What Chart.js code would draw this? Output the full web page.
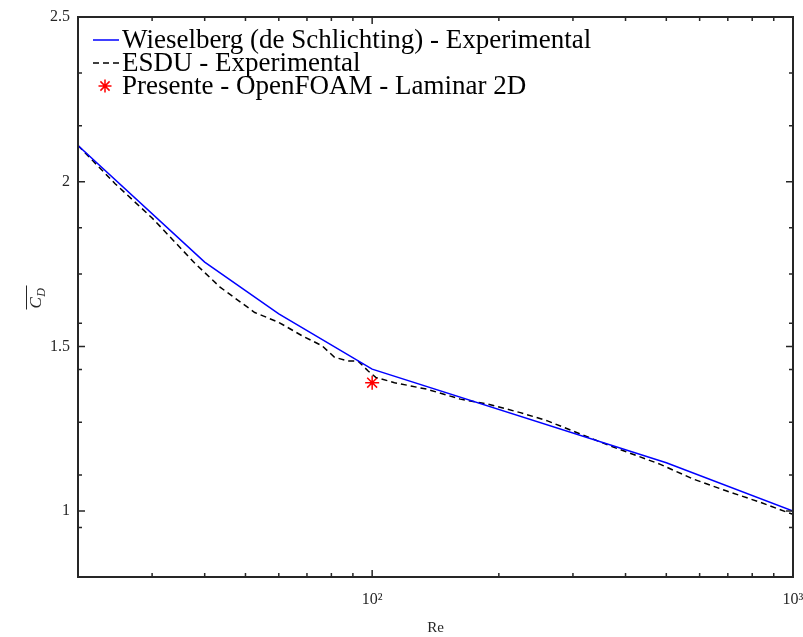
<!DOCTYPE html>
<html><head><meta charset="utf-8">
<script src="https://cdn.jsdelivr.net/npm/chart.js@4.4.0/dist/chart.umd.min.js"></script>
<style>html,body{margin:0;padding:0;background:#fff;overflow:hidden}#wrap{width:803px;height:637px;position:relative}</style>
</head><body><div id="wrap"><canvas id="c" width="803" height="637"></canvas></div>
<script>
// ---- data ----
const seriesNames = ['Wieselberg (de Schlichting) - Experimental', 'ESDU - Experimental', 'Presente - OpenFOAM - Laminar 2D'];
const wieselbergRe = [20, 40, 60, 100, 500, 1000];
const wieselbergCd = [2.11, 1.756, 1.599, 1.431, 1.147, 1.0];
const esduRe = [20, 24.5, 30, 33.4, 38, 43.5, 52.6, 60, 68, 76, 81.4, 87.6, 92.5, 97.7, 102, 113, 135, 162, 188, 225, 261, 307, 368, 484, 580, 696, 835, 1000];
const esduCd = [2.11, 1.994, 1.89, 1.827, 1.751, 1.68, 1.603, 1.573, 1.533, 1.502, 1.467, 1.456, 1.456, 1.426, 1.406, 1.390, 1.370, 1.340, 1.325, 1.299, 1.274, 1.238, 1.198, 1.142, 1.097, 1.061, 1.027, 0.99];
const presenteRe = [100];
const presenteCd = [1.39];
const xMajorTicks = [100, 1000];
const xTickLabels = ['10²', '10³'];
const xMinorTicks = [30, 40, 50, 60, 70, 80, 90, 200, 300, 400, 500, 600, 700, 800, 900];
const yMajorTicks = [1, 1.5, 2, 2.5];
const yTickLabels = ['1', '1.5', '2', '2.5'];
const yMinorTicks = [0.95, 1.11, 1.27, 1.43, 1.57, 1.72, 1.86, 2.17, 2.33];
const xTitle = 'Re';

const toPts = (xs, ys) => xs.map((x, i) => ({x: x, y: ys[i]}));
const AXIS_COLOR = '#262626';
const SERIF = '"Liberation Serif", "DejaVu Serif", serif';

const boxPlugin = {
  id: 'box',
  afterDatasetsDraw(chart) {
    const ctx = chart.ctx, ca = chart.chartArea;
    const xs = chart.scales.x, ys = chart.scales.y;
    ctx.save();
    ctx.strokeStyle = AXIS_COLOR;
    ctx.lineWidth = 1.5;
    ctx.beginPath();
    const tick = (px, len, horiz) => {
      if (horiz) {
        ctx.moveTo(px, ca.bottom); ctx.lineTo(px, ca.bottom - len);
        ctx.moveTo(px, ca.top); ctx.lineTo(px, ca.top + len);
      } else {
        ctx.moveTo(ca.left, px); ctx.lineTo(ca.left + len, px);
        ctx.moveTo(ca.right, px); ctx.lineTo(ca.right - len, px);
      }
    };
    xMajorTicks.forEach(v => tick(xs.getPixelForValue(v), 7, true));
    xMinorTicks.forEach(v => tick(xs.getPixelForValue(v), 4, true));
    yMajorTicks.forEach(v => tick(ys.getPixelForValue(v), 7, false));
    yMinorTicks.forEach(v => tick(ys.getPixelForValue(v), 4, false));
    ctx.stroke();
    ctx.lineWidth = 2;
    ctx.strokeRect(ca.left, ca.top, ca.right - ca.left, ca.bottom - ca.top);
    ctx.restore();
  },
  afterDraw(chart) {
    const ctx = chart.ctx, ca = chart.chartArea;
    // legend
    ctx.save();
    const baselines = [48, 71, 94];
    chart.data.datasets.forEach((ds, i) => {
      const by = baselines[i];
      const my = by - 8;
      ctx.strokeStyle = ds.borderColor;
      ctx.lineWidth = 1.5;
      if (ds.showLine) {
        ctx.setLineDash(ds.borderDash || []);
        ctx.beginPath();
        ctx.moveTo(ca.left + 15, my); ctx.lineTo(ca.left + 41, my);
        ctx.stroke();
        ctx.setLineDash([]);
      } else {
        const cx = ca.left + 27, r = 6.5;
        ctx.beginPath();
        ctx.moveTo(cx - r, my); ctx.lineTo(cx + r, my);
        ctx.moveTo(cx, my - r); ctx.lineTo(cx, my + r);
        const d = r * Math.SQRT1_2;
        ctx.moveTo(cx - d, my - d); ctx.lineTo(cx + d, my + d);
        ctx.moveTo(cx - d, my + d); ctx.lineTo(cx + d, my - d);
        ctx.stroke();
      }
      ctx.fillStyle = '#000';
      ctx.font = '27px ' + SERIF;
      ctx.textBaseline = 'alphabetic';
      ctx.textAlign = 'left';
      ctx.fillText(ds.label, ca.left + 44, by);
    });
    // y-axis title: overline C_D, rotated
    ctx.fillStyle = AXIS_COLOR;
    ctx.strokeStyle = AXIS_COLOR;
    const fC = 'italic 17px ' + SERIF, fD = 'italic 12px ' + SERIF;
    ctx.font = fC; const wC = ctx.measureText('C').width;
    ctx.font = fD; const wD = ctx.measureText('D').width;
    const w = wC + wD + 1;
    const cy = (ca.top + ca.bottom) / 2 + 1;
    ctx.translate(41, cy + w / 2);
    ctx.rotate(-Math.PI / 2);
    ctx.textBaseline = 'alphabetic';
    ctx.font = fC; ctx.fillText('C', 0, 0);
    ctx.font = fD; ctx.fillText('D', wC + 0.5, 4);
    ctx.lineWidth = 1;
    ctx.beginPath(); ctx.moveTo(-1, -14.5); ctx.lineTo(w + 2, -14.5); ctx.stroke();
    ctx.restore();
  }
};

new Chart(document.getElementById('c'), {
  type: 'scatter',
  data: {
    datasets: [
      {label: seriesNames[0], data: toPts(wieselbergRe, wieselbergCd), showLine: true, borderColor: '#0000ff', borderWidth: 1.5, pointRadius: 0, fill: false, tension: 0},
      {label: seriesNames[1], data: toPts(esduRe, esduCd), showLine: true, borderColor: '#000000', borderWidth: 1.5, borderDash: [6, 4], pointRadius: 0, fill: false, tension: 0},
      {label: seriesNames[2], data: toPts(presenteRe, presenteCd), showLine: false, borderColor: '#ff0000', backgroundColor: '#ff0000', pointStyle: 'star', pointRadius: 7, pointBorderWidth: 1.5}
    ]
  },
  options: {
    responsive: false, animation: false, devicePixelRatio: 1,
    layout: {padding: {top: 17, right: 10, left: 0, bottom: 0}},
    plugins: {legend: {display: false}, tooltip: {enabled: false}},
    scales: {
      x: {
        type: 'logarithmic', min: 20, max: 1000,
        afterBuildTicks: s => { s.ticks = xMajorTicks.map(v => ({value: v})); },
        afterFit: s => { s.height = 60; s.paddingRight = 0; s.paddingLeft = 0; },
        grid: {display: false, drawTicks: false}, border: {display: false},
        ticks: {callback: (v) => xTickLabels[xMajorTicks.indexOf(v)], font: {family: SERIF, size: 16}, color: AXIS_COLOR, padding: 13, maxRotation: 0, autoSkip: false},
        title: {display: true, text: xTitle, font: {family: SERIF, size: 15}, color: AXIS_COLOR, padding: {top: 4, bottom: 0}}
      },
      y: {
        min: 0.8, max: 2.5,
        afterBuildTicks: s => { s.ticks = yMajorTicks.map(v => ({value: v})); },
        afterFit: s => { s.width = 78; s.paddingTop = 0; s.paddingBottom = 0; },
        grid: {display: false, drawTicks: false}, border: {display: false},
        ticks: {callback: (v) => yTickLabels[yMajorTicks.indexOf(v)], font: {family: SERIF, size: 16}, color: AXIS_COLOR, padding: 8, autoSkip: false}
      }
    }
  },
  plugins: [boxPlugin]
});
</script></body></html>
